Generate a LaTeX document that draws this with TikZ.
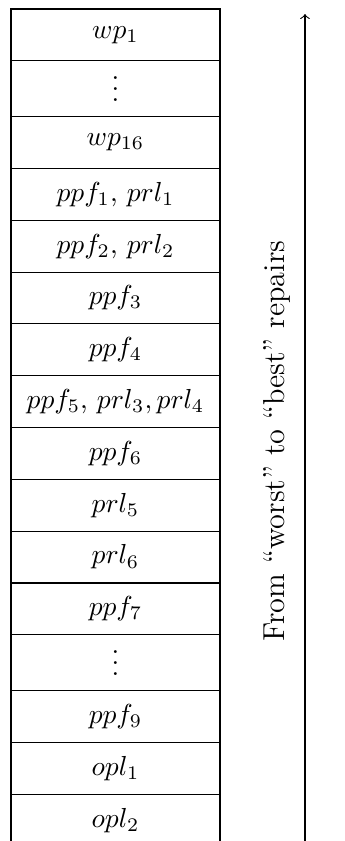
\documentclass[tikz,border=0pt]{standalone}
\usetikzlibrary{positioning}
\tikzset{
  slot/.style={draw, outer sep=0pt, inner sep=0pt, minimum width=76pt, minimum height=18.84pt},
  dotslot/.style={slot, minimum height=20.3pt},
}
\newcommand{\middots}{\smash{\raisebox{-4.6pt}{$\vdots$}}}
\begin{document}
\begin{tikzpicture}[x=1pt, y=1pt, >=to]
    \useasboundingbox (0,0) rectangle (125.1,-305.8);
    % column of repairs, top to bottom
    \node[slot, below right] (wp1) at (4,-3.27) {$wp_1$};
    \node[dotslot, below=0pt of wp1] (wpdots) {\middots};
    \node[slot, below=0pt of wpdots] (wp16) {$wp_{16}$};
    \node[slot, below=0pt of wp16] (ppf1) {$ppf_1$, $prl_1$};
    \node[slot, below=0pt of ppf1] (ppf2) {$ppf_2$, $prl_2$};
    \node[slot, below=0pt of ppf2] (ppf3) {$ppf_3$};
    \node[slot, below=0pt of ppf3] (ppf4) {$ppf_4$};
    \node[slot, below=0pt of ppf4] (ppf5) {$ppf_5$, $prl_3,prl_4$};
    \node[slot, below=0pt of ppf5] (ppf6) {$ppf_6$};
    \node[slot, below=0pt of ppf6] (prl5) {$prl_5$};
    \node[slot, below=0pt of prl5] (prl6) {$prl_6$};
    \node[slot, below=0pt of prl6] (ppf7) {$ppf_7$};
    \node[dotslot, below=0pt of ppf7] (ppfdots) {\middots};
    \node[slot, below=0pt of ppfdots] (ppf9) {$ppf_9$};
    \node[slot, below=0pt of ppf9] (opl1) {$opl_1$};
    \node[slot, below=0pt of opl1] (opl2) {$opl_2$};
    % ordering arrow
    \coordinate (tail) at (110.9,-310);
    \coordinate (head) at (110.9,-5.1);
    \draw[->] (tail) -- (head);
    \node[rotate=90, font=\fontsize{11pt}{13pt}\selectfont] (order) at (100.8,-160.4) {From ``worst'' to ``best'' repairs};
\end{tikzpicture}
\end{document}
